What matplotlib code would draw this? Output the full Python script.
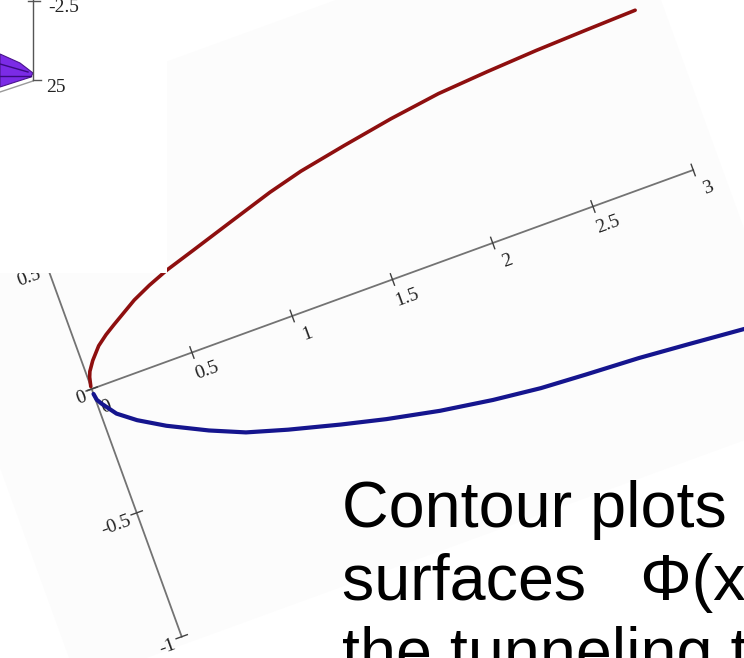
import numpy as np
import matplotlib.pyplot as plt
import matplotlib.transforms as mtransforms
from matplotlib.patches import Polygon, Rectangle

# values, in its own axis units
red_x = [0.0, 0.01, 0.02, 0.05, 0.1, 0.15, 0.2, 0.33, 0.42, 0.52, 0.67, 0.89, 1.1, 1.27, 1.5, 1.75, 2.0, 2.25, 2.5, 2.75, 3.0]
red_y = [0.01, 0.045, 0.065, 0.10, 0.145, 0.175, 0.20, 0.262, 0.295, 0.326, 0.363, 0.418, 0.47, 0.505, 0.54, 0.575, 0.603, 0.618, 0.63, 0.638, 0.645]

blue_x = [0.0, 0.005, 0.02, 0.07, 0.15, 0.27, 0.45, 0.61, 0.8, 1.04, 1.25, 1.5, 1.75, 1.98, 2.2, 2.46, 2.7, 3.0, 3.1]
blue_y = [-0.02, -0.045, -0.065, -0.12, -0.17, -0.228, -0.30, -0.355, -0.40, -0.45, -0.49, -0.53, -0.56, -0.58, -0.59, -0.60, -0.615, -0.635, -0.64]

x_ticks = [0.5, 1, 1.5, 2, 2.5, 3]
x_labels = ['0.5', '1', '1.5', '2', '2.5', '3']
y_ticks = [0.5, 0, -0.5, -1]
y_labels = ['0.5', '0', '-0.5', '-1']

text_lines = ['Contour plots', 'surfaces   \u03a6(x', 'the tunneling t']

fig = plt.figure(figsize=(7.44, 6.58), dpi=100)
ax = fig.add_axes([0, 0, 1, 1])
ax.set_xlim(0, 744)
ax.set_ylim(658, 0)
ax.axis('off')

# the plot picture sits tilted by ~20 deg on the slide
M = np.array([[200.5, -90.0, 91.7],
              [-73.0, -247.7, 389.0],
              [0.0, 0.0, 1.0]])
tr = mtransforms.Affine2D(M) + ax.transData

# very light grey backing of the tilted picture
ax.add_patch(Polygon([(-0.53, -1.03), (3.13, -1.03), (3.13, 1.07), (-0.53, 1.07)],
                     closed=True, transform=tr, facecolor='#fcfcfc', edgecolor='none', zorder=0))

# axes of the tilted plot
ax.plot([-0.02, 3.0], [0, 0], transform=tr, color='#737373', lw=1.3, zorder=2)
ax.plot([0, 0], [-1, 0.6], transform=tr, color='#737373', lw=1.3, zorder=2)
for xt in x_ticks:
    ax.plot([xt, xt], [-0.023, 0.023], transform=tr, color='#404040', lw=1, zorder=2)
for xt, lab in zip([0] + x_ticks, ['0'] + x_labels):
    ax.text(xt + 0.035, -0.085, lab, transform=tr, rotation=20, rotation_mode='anchor',
            ha='center', va='center', fontsize=14, family='Liberation Serif', color='#222222', zorder=3)
for yt, lab in zip(y_ticks, y_labels):
    ax.plot([-0.028, 0.028], [yt, yt], transform=tr, color='#404040', lw=1, zorder=2)
    ax.text(-0.04, yt - 0.02, lab, transform=tr, rotation=20, rotation_mode='anchor',
            ha='right', va='center', fontsize=14, family='Liberation Serif', color='#222222', zorder=3)

ax.plot(red_x, red_y, transform=tr, color='#8e0f0f', lw=2.6, solid_capstyle='round',
        solid_joinstyle='round', zorder=4)
ax.plot(blue_x, blue_y, transform=tr, color='#15158e', lw=3.0, solid_capstyle='round',
        solid_joinstyle='round', zorder=4)

# white block of the other picture in the top-left corner
ax.add_patch(Rectangle((0, 0), 167, 273, facecolor='white', edgecolor='none', zorder=5))

# fragment of the 3D plot peeking in
frag_poly = [(0, 54), (20, 63), (33, 73), (31, 77), (0, 87)]
ax.add_patch(Polygon(frag_poly, closed=True, facecolor='#7b2be6', edgecolor='#4a148c', lw=0.8, zorder=6))
ax.plot([0, 28], [64, 72], color='#3a0a80', lw=1.0, zorder=6)
ax.plot([0, 31], [76, 76], color='#3a0a80', lw=1.0, zorder=6)
ax.plot([0, 33], [92, 81], color='#9a9a9a', lw=1.0, zorder=6)
ax.plot([33, 33], [0, 80], color='#555555', lw=1.0, zorder=6)
ax.plot([28, 40], [1, 1], color='#555555', lw=1.0, zorder=6)
ax.plot([33, 41], [80, 80], color='#555555', lw=1.0, zorder=6)
ax.text(48, 7, '-2.5', ha='left', va='center', fontsize=14, family='Liberation Serif', color='#222222', zorder=6)
ax.text(46, 88, '25', ha='left', va='center', fontsize=14, family='Liberation Serif', color='#222222', zorder=6)

# slide text
for i, line in enumerate(text_lines):
    ax.text(342, 527 + 73 * i, line, ha='left', va='baseline', fontsize=46.5,
            family='Liberation Sans', color='black', zorder=10)

fig.savefig('out.png', dpi=100)
